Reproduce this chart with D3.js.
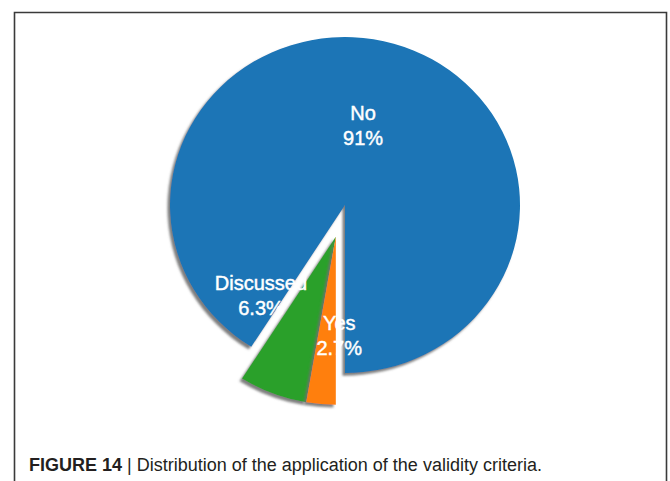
<!DOCTYPE html>
<html>
<head>
<meta charset="utf-8">
<script src="https://cdn.jsdelivr.net/npm/d3@7/dist/d3.min.js"></script>
<style>
  html, body { margin: 0; padding: 0; background: #fff; }
  svg { display: block; }
</style>
</head>
<body>
<svg id="chart" width="670" height="481"></svg>
<script>
// ---- data ----
const categories = ["No", "Discussed", "Yes"];
const values = [91, 6.3, 2.7];
const percentLabels = ["91%", "6.3%", "2.7%"];
const exploded = [false, true, true];
const captionBold = "FIGURE 14";
const captionText = "Distribution of the application of the validity criteria.";

// ---- styles / layout ----
const W = 670, H = 481;
const cx = 345, cy = 205, rx = 175, ry = 168;
const explodeDist = 33;
const colors = d3.scaleOrdinal().domain(categories).range(["#1a75b6", "#2ca02c", "#ff7f0e"]);
// label placement: [angle shift (deg), radius (px)] relative to slice mid-angle
const labelPlacement = [[-4.2, 87], [23.6, 119.5], [-2.2, 125]];

const svg = d3.select("#chart");

// frame
svg.append("path")
  .attr("d", `M14.5,${H + 2} L14.5,12.5 L666.5,12.5 L666.5,${H + 2}`)
  .attr("fill", "none").attr("stroke", "#3a3a3a").attr("stroke-width", 1.6);

// shadow filter
const defs = svg.append("defs");
const f = defs.append("filter").attr("id", "shadow")
  .attr("x", "-20%").attr("y", "-20%").attr("width", "140%").attr("height", "140%");
f.append("feDropShadow").attr("dx", -2.5).attr("dy", 2.8).attr("stdDeviation", 0.9)
  .attr("flood-color", "#6f6f6f").attr("flood-opacity", 0.9);

const pie = d3.pie().sort(null).value(d => d.value)
  .startAngle(3 * Math.PI).endAngle(Math.PI);
const data = categories.map((c, i) => ({ cat: c, value: values[i], pct: percentLabels[i], exp: exploded[i], i }));
const arcs = pie(data);

const arc = d3.arc().innerRadius(0).outerRadius(rx);

// explosion direction: mid-angle of the exploded group
const expArcs = arcs.filter(a => a.data.exp);
const gStart = d3.max(expArcs, a => Math.max(a.startAngle, a.endAngle));
const gEnd = d3.min(expArcs, a => Math.min(a.startAngle, a.endAngle));
const gMid = (gStart + gEnd) / 2;
const ex = explodeDist * Math.sin(gMid), ey = -explodeDist * Math.cos(gMid);

// draw order: No, Discussed, Yes
arcs.forEach(a => {
  const dx = a.data.exp ? ex : 0, dy = a.data.exp ? ey : 0;
  svg.append("g")
    .attr("transform", `translate(${cx + dx},${cy + dy}) scale(1,${ry / rx})`)
    .append("path")
    .attr("d", arc(a))
    .attr("fill", colors(a.data.cat))
    .attr("filter", "url(#shadow)");
});

// labels
arcs.forEach((a, k) => {
  const mid = (a.startAngle + a.endAngle) / 2;
  const [shift, r] = labelPlacement[k];
  const ang = mid + shift * Math.PI / 180;
  const x = cx + r * Math.sin(ang);
  const y = cy - r * Math.cos(ang);
  const t = svg.append("text")
    .attr("x", x).attr("y", y)
    .attr("text-anchor", "middle")
    .attr("fill", "#fff")
    .attr("stroke", "#fff").attr("stroke-width", 0.45)
    .attr("font-family", "Liberation Sans, Arial, Helvetica, sans-serif")
    .attr("font-size", 20);
  t.append("tspan").attr("x", x).attr("y", y).text(a.data.cat);
  t.append("tspan").attr("x", x).attr("y", y + 25).text(a.data.pct);
});

// caption
const cap = svg.append("text")
  .attr("x", 29).attr("y", 471)
  .attr("fill", "#231f20")
  .attr("font-family", "Liberation Sans, Arial, Helvetica, sans-serif")
  .attr("font-size", 18);
cap.append("tspan").attr("font-weight", "bold").text(captionBold);
cap.append("tspan").attr("font-weight", "normal").text(" | " + captionText);
</script>
</body>
</html>
